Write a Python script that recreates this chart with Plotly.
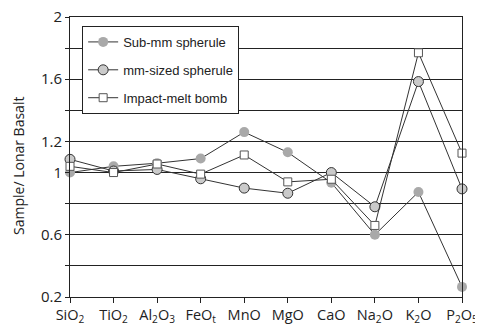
import plotly.graph_objects as go

categories = ["SiO<sub>2</sub>", "TiO<sub>2</sub>", "Al<sub>2</sub>O<sub>3</sub>", "FeO<sub>t</sub>", "MnO",
              "MgO", "CaO", "Na<sub>2</sub>O", "K<sub>2</sub>O", "P<sub>2</sub>O<sub>5</sub>"]
sub_mm = [1.00, 1.04, 1.06, 1.09, 1.26, 1.13, 0.935, 0.60, 0.875, 0.265]
mm_sized = [1.085, 1.01, 1.02, 0.96, 0.90, 0.867, 1.00, 0.78, 1.585, 0.895]
bomb = [1.04, 1.00, 1.055, 0.99, 1.113, 0.94, 0.957, 0.66, 1.77, 1.125]

y_ticks = [0.2, 0.4, 0.6, 0.8, 1.0, 1.2, 1.4, 1.6, 1.8, 2.0]
y_ticktext = ["0.2", "", "0.6", "", "1", "1.2", "", "1.6", "", "2"]

x = list(range(len(categories)))
line_col = "#333333"

fig = go.Figure()
fig.add_trace(go.Scatter(
    x=x, y=sub_mm, name="Sub-mm spherule", mode="lines+markers", legendgroup="a",
    line=dict(color=line_col, width=1),
    marker=dict(symbol="circle", size=10, color="#a9a9a9", line=dict(width=0)),
    cliponaxis=False))
fig.add_trace(go.Scatter(
    x=x, y=mm_sized, name="mm-sized spherule", mode="lines+markers", legendgroup="b",
    line=dict(color=line_col, width=1),
    marker=dict(symbol="circle", size=10, color="#cacaca", line=dict(width=1, color="#333333")),
    cliponaxis=False))
fig.add_trace(go.Scatter(
    x=x, y=bomb, name="Impact-melt bomb", mode="lines+markers", legendgroup="c",
    line=dict(color=line_col, width=1),
    marker=dict(symbol="square", size=8, color="white", line=dict(width=1, color="#555555")),
    cliponaxis=False))

# page body has an 8px default margin; figure is offset to compensate
fig.update_layout(
    width=475, height=320,
    margin=dict(l=62, r=21, t=9, b=31, autoexpand=False),
    paper_bgcolor="white", plot_bgcolor="white",
    font=dict(family="Open Sans, Liberation Sans, Arial", color="#222222", size=14),
    showlegend=True,
    legend=dict(x=0.031, y=0.968, xanchor="left", yanchor="top",
                bgcolor="white", bordercolor="#222222", borderwidth=1,
                font=dict(family="Liberation Sans, Arial", size=13, color="#222222"),
                tracegroupgap=8, itemwidth=30),
    xaxis=dict(range=[0, 9], tickvals=x, ticktext=categories, showgrid=False, automargin=False,
               showline=True, linecolor="#222222", linewidth=1, mirror=True,
               ticks="outside", ticklen=5, tickcolor="#222222", zeroline=False,
               ticklabeloverflow="allow", tickfont=dict(size=14.5)),
    yaxis=dict(range=[0.2, 2.0], tickvals=y_ticks, ticktext=y_ticktext, automargin=False,
               showgrid=True, gridcolor="#222222", gridwidth=1.2,
               showline=True, linecolor="#222222", linewidth=1, mirror=True,
               ticks="outside", ticklen=4, tickcolor="#222222", zeroline=False,
               ticklabeloverflow="allow", tickfont=dict(size=15)),
    annotations=[dict(text="Sample/ Lonar Basalt", textangle=-90, xref="paper", yref="paper",
                      x=-0.13, y=0.468, xanchor="center", yanchor="middle", showarrow=False,
                      font=dict(size=14))],
)

fig.write_html("out.html")
